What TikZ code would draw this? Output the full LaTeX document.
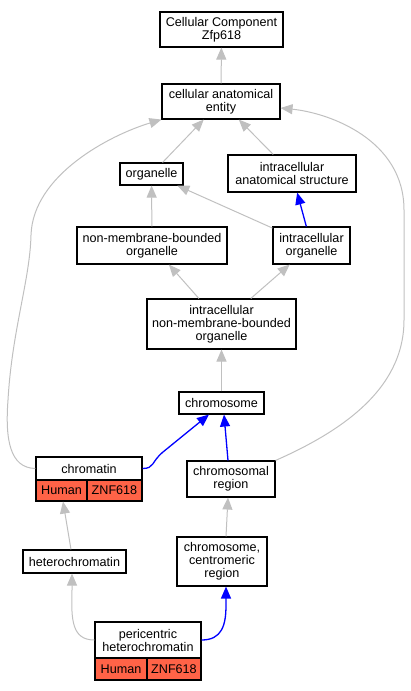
\documentclass[tikz,border=0pt]{standalone}
\usepackage{fontspec}
\setmainfont{Liberation Sans}
\usetikzlibrary{arrows.meta}
\definecolor{edgegray}{RGB}{192,192,192}
\definecolor{edgeblue}{RGB}{0,0,255}
\definecolor{tomato}{RGB}{255,99,71}
\begin{document}
\begin{tikzpicture}[x=1pt,y=-1pt,
  font=\fontsize{12.6}{13}\selectfont,
  box/.style={draw=black,line width=1.1pt,fill=white,inner sep=0pt,align=center},
  cell/.style={draw=black,line width=1.1pt,fill=tomato,inner sep=0pt,align=center},
  grayedge/.style={draw=edgegray,line width=1pt,-{Triangle[length=12pt,width=10pt,fill=edgegray]}},
  blueedge/.style={draw=edgeblue,line width=1.3pt,-{Triangle[length=12pt,width=10pt,fill=edgeblue]}}]
\useasboundingbox (0,0) rectangle (411,691);

% edges first (nodes on top)
\begin{scope}[on background layer/.style={}]
\end{scope}

\node[box,minimum width=123pt,minimum height=35pt] (cc) at (221.5,29.5) {Cellular Component\\Zfp618};
\node[box,minimum width=118pt,minimum height=35pt] (cae) at (221,101.5) {cellular anatomical\\entity};
\node[box,minimum width=63pt,minimum height=22pt] (org) at (151.5,174) {organelle};
\node[box,minimum width=128pt,minimum height=37pt] (ias) at (292,173.5) {intracellular\\anatomical structure};
\node[box,minimum width=150pt,minimum height=37pt] (nmbo) at (152,245.5) {non-membrane-bounded\\organelle};
\node[box,minimum width=77pt,minimum height=37pt] (io) at (311.5,245.5) {intracellular\\organelle};
\node[box,minimum width=149pt,minimum height=50pt] (inmbo) at (221.5,324) {intracellular\\non-membrane-bounded\\organelle};
\node[box,minimum width=85pt,minimum height=22pt] (chr) at (221.5,403) {chromosome};
\node[box,minimum width=106pt,minimum height=23pt] (ctn) at (89,468.5) {chromatin};
\node[cell,minimum width=51pt,minimum height=21pt] (ctnh) at (61.5,490.5) {Human};
\node[cell,minimum width=55pt,minimum height=21pt] (ctnz) at (114.5,490.5) {ZNF618};
\node[box,minimum width=88pt,minimum height=36pt] (creg) at (231,479) {chromosomal\\region};
\node[box,minimum width=103pt,minimum height=23pt] (het) at (74.5,561.5) {heterochromatin};
\node[box,minimum width=90pt,minimum height=49pt] (ccr) at (222,561.5) {chromosome,\\centromeric\\region};
\node[box,minimum width=106pt,minimum height=36pt] (peri) at (148,640) {pericentric\\heterochromatin};
\node[cell,minimum width=52pt,minimum height=22pt] (perih) at (121,669) {Human};
\node[cell,minimum width=54pt,minimum height=22pt] (periz) at (174,669) {ZNF618};

\draw[grayedge] (cae) -- (cc);
\draw[grayedge] (org) -- (cae);
\draw[grayedge] (ias) -- (cae);
\draw[grayedge] (nmbo) -- (org);
\draw[grayedge] (io) -- (org);
\draw[blueedge] (io) -- (ias);
\draw[grayedge] (inmbo) -- (nmbo);
\draw[grayedge] (inmbo) -- (io);
\draw[grayedge] (chr) -- (inmbo);
\draw[blueedge] (ctn.east) .. controls +(12,0) and +(-12,10) .. (163,452) -- ([xshift=-12.5pt]chr.south);
\draw[blueedge] ([xshift=-3pt]creg.north) -- ([xshift=2.5pt]chr.south);
\draw[grayedge] (creg.north east) .. controls (340,432) and (404,390) .. (404,320) -- (404,210) .. controls (404,140) and (330,113) .. ([yshift=-6.5pt]cae.east);
\draw[grayedge] (ctn.west) .. controls (10,468) and (5,440) .. (8,400) .. controls (12,330) and (30,280) .. (31,235) .. controls (33,175) and (110,135) .. (cae.south west);
\draw[grayedge] ([xshift=-3.5pt]het.north) -- ([xshift=1.5pt]ctnh.south);
\draw[grayedge] ([xshift=4pt]ccr.north) -- ([xshift=-3pt]creg.south);
\draw[grayedge] (peri.west) .. controls (72,640) and (71,620) .. (72,590) -- ([xshift=-2.5pt]het.south);
\draw[blueedge] (peri.east) .. controls (222,640) and (226,625) .. (226,605) -- ([xshift=4pt]ccr.south);
\end{tikzpicture}
\end{document}
